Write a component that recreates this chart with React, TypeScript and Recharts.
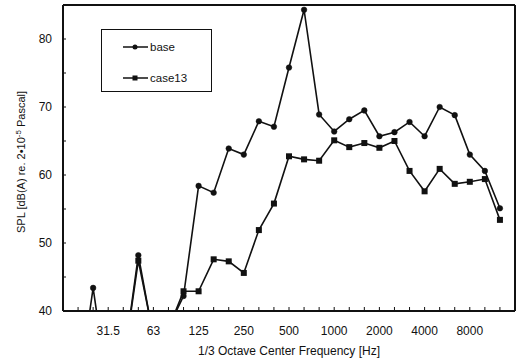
import { LineChart, Line, XAxis, YAxis, ReferenceLine } from "recharts"

// 1/3 octave bands, index 0 = 31.5 Hz
const bands = ["20", "25", "31.5", "40", "50", "63", "80", "100", "125", "160", "200", "250", "315", "400", "500", "630", "800", "1000", "1250", "1600", "2000", "2500", "3150", "4000", "5000", "6300", "8000", "10000", "12500"]
const firstIndex = -2

const base = [28, 43.4, 28, 32, 48.2, 36.2, 37.6, 42.2, 58.4, 57.4, 63.9, 63.0, 67.9, 67.1, 75.8, 84.3, 68.9, 66.4, 68.2, 69.5, 65.7, 66.3, 67.8, 65.7, 70.0, 68.8, 63.0, 60.6, 55.1]
const case13 = [28, 33, 27, 32, 47.4, 36.4, 37.4, 42.9, 42.9, 47.6, 47.3, 45.6, 51.9, 55.8, 62.75, 62.3, 62.1, 65.1, 64.1, 64.7, 64.0, 65.0, 60.6, 57.6, 60.9, 58.7, 59.0, 59.4, 53.4]

const octaveLabels = ["31.5", "63", "125", "250", "500", "1000", "2000", "4000", "8000"]
const yLabels = [40, 50, 60, 70, 80]

const data = bands.map((band, i) => ({
  band,
  idx: firstIndex + i,
  base: base[i],
  case13: case13[i],
}))

const xTicks = Array.from({ length: 31 }, (_, i) => i - 3)
const yTicks = [40, 45, 50, 55, 60, 65, 70, 75, 80, 85]

const FONT = "'Liberation Sans', Arial, sans-serif"
const INK = "#111"

function XTick(props: any) {
  const { x, y, payload } = props
  const v = payload.value
  const label = v >= 0 && v % 3 === 0 ? octaveLabels[v / 3] : null
  return (
    <g>
      <line x1={x} y1={y} x2={x} y2={y - 4} stroke={INK} strokeWidth={1} />
      {label && (
        <text x={x} y={y + 24} textAnchor="middle" fontSize={12} fontFamily={FONT} fill={INK}>
          {label}
        </text>
      )}
    </g>
  )
}

function YTick(props: any) {
  const { x, y, payload } = props
  const v = payload.value
  return (
    <g>
      <line x1={x} y1={y} x2={x + 3} y2={y} stroke={INK} strokeWidth={1} />
      {yLabels.includes(v) && (
        <text x={x - 11} y={y + 4} textAnchor="end" fontSize={12} fontFamily={FONT} fill={INK}>
          {v}
        </text>
      )}
    </g>
  )
}

function SquareDot(props: any) {
  const { cx, cy, index } = props
  if (cx == null || cy == null) return <g key={index} />
  return <rect key={index} x={cx - 3} y={cy - 3} width={6} height={6} fill={INK} />
}

// legend drawn as an overlay so it does not shift the plot area
function LegendBox() {
  return (
    <svg width={111} height={63} style={{ position: "absolute", left: 101, top: 29, display: "block" }}>
      <rect x={0.5} y={0.5} width={110} height={62} fill="#fff" stroke={INK} strokeWidth={1} />
      <line x1={22} y1={18} x2={47} y2={18} stroke={INK} strokeWidth={1.5} />
      <circle cx={34} cy={18} r={2.5} fill={INK} />
      <text x={49} y={22} fontSize={11.5} fontFamily={FONT} fill={INK}>base</text>
      <line x1={22} y1={49} x2={47} y2={49} stroke={INK} strokeWidth={1.5} />
      <rect x={31.5} y={46.5} width={5} height={5} fill={INK} />
      <text x={49} y={53} fontSize={11.5} fontFamily={FONT} fill={INK}>case13</text>
    </svg>
  )
}

export default function App() {
  return (
    <div style={{ position: "absolute", left: 0, top: 0, width: 519, height: 360, background: "#fff" }}>
      <LineChart width={519} height={360} data={data} margin={{ top: 5, right: 4, bottom: 0, left: 0 }}>
        <XAxis
          type="number"
          dataKey="idx"
          domain={[-3, 27]}
          ticks={xTicks}
          interval={0}
          allowDataOverflow
          height={49}
          tickSize={0}
          tickMargin={0}
          tickLine={false}
          tick={<XTick />}
          axisLine={{ stroke: INK, strokeWidth: 2 }}
          label={{
            value: "1/3 Octave Center Frequency [Hz]",
            position: "insideBottom",
            offset: 5,
            fontSize: 12,
            fontFamily: FONT,
            fill: INK,
          }}
        />
        <YAxis
          type="number"
          domain={[40, 85]}
          ticks={yTicks}
          interval={0}
          allowDataOverflow
          width={63}
          tickSize={0}
          tickMargin={0}
          tickLine={false}
          tick={<YTick />}
          axisLine={{ stroke: INK, strokeWidth: 2 }}
          label={(p: any) => {
            const vb = p.viewBox
            const cx = vb.x + 25
            const cy = vb.y + vb.height / 2 + 4
            return (
              <text
                transform={`translate(${cx},${cy}) rotate(-90)`}
                textAnchor="middle"
                fontSize={11}
                fontFamily={FONT}
                fill={INK}
              >
                SPL [dB(A) re. 2•10
                <tspan fontSize={8} dy={-4}>-5</tspan>
                <tspan dy={4}> Pascal]</tspan>
              </text>
            )
          }}
        />
        <ReferenceLine y={85} stroke={INK} strokeWidth={2} />
        <ReferenceLine x={27} stroke={INK} strokeWidth={2} />
        <Line
          type="linear"
          dataKey="base"
          stroke={INK}
          strokeWidth={1.6}
          dot={{ r: 2.8, fill: INK, stroke: INK, strokeWidth: 0.5 }}
          activeDot={false}
          isAnimationActive={false}
        />
        <Line
          type="linear"
          dataKey="case13"
          stroke={INK}
          strokeWidth={1.6}
          dot={<SquareDot />}
          activeDot={false}
          isAnimationActive={false}
        />
      </LineChart>
      <LegendBox />
    </div>
  )
}
